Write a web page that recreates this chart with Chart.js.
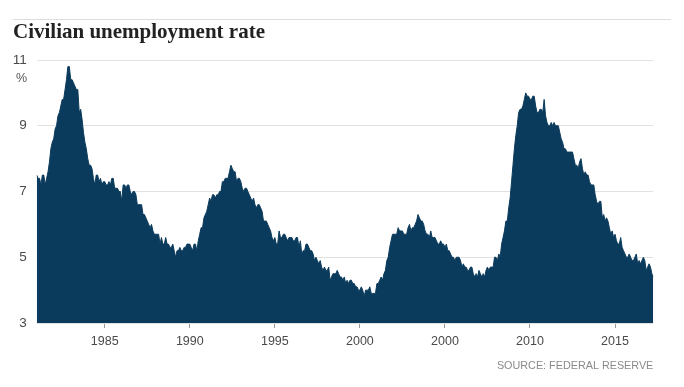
<!DOCTYPE html>
<html>
<head>
<meta charset="utf-8">
<script src="https://cdn.jsdelivr.net/npm/chart.js@4"></script>
<style>
  html, body { margin: 0; padding: 0; background: #fff; }
  canvas { display: block; }
</style>
</head>
<body>
<canvas id="chart" width="684" height="387"></canvas>
<script>
// Monthly civilian unemployment rate, %, Jan 1981 - Apr 2017
const startYear = 1981;

const rates1980s = [
  7.5, 7.4, 7.4, 7.2, 7.5, 7.5, 7.2, 7.4, 7.6, 7.9, 8.3, 8.5,
  8.6, 8.9, 9.0, 9.3, 9.4, 9.6, 9.8, 9.8, 10.1, 10.4, 10.8, 10.8,
  10.4, 10.4, 10.3, 10.2, 10.1, 10.1, 9.4, 9.5, 9.2, 8.8, 8.5, 8.3,
  8.0, 7.8, 7.8, 7.7, 7.4, 7.2, 7.5, 7.5, 7.3, 7.4, 7.2, 7.3,
  7.3, 7.2, 7.2, 7.3, 7.2, 7.4, 7.4, 7.1, 7.1, 7.1, 7.0, 7.0,
  6.7, 7.2, 7.2, 7.1, 7.2, 7.2, 7.0, 6.9, 7.0, 7.0, 6.9, 6.6,
  6.6, 6.6, 6.6, 6.3, 6.3, 6.2, 6.1, 6.0, 5.9, 6.0, 5.8, 5.7,
  5.7, 5.7, 5.7, 5.4, 5.6, 5.4, 5.4, 5.6, 5.4, 5.4, 5.3, 5.3,
  5.4, 5.2, 5.0, 5.2, 5.2, 5.3, 5.2, 5.2, 5.3, 5.3, 5.4, 5.4
];

const rates1990s = [
  5.4, 5.3, 5.2, 5.4, 5.4, 5.2, 5.5, 5.7, 5.9, 5.9, 6.2, 6.3,
  6.4, 6.6, 6.8, 6.7, 6.9, 6.9, 6.8, 6.9, 6.9, 7.0, 7.0, 7.3,
  7.3, 7.4, 7.4, 7.4, 7.6, 7.8, 7.7, 7.6, 7.6, 7.3, 7.4, 7.4,
  7.3, 7.1, 7.0, 7.1, 7.1, 7.0, 6.9, 6.8, 6.7, 6.8, 6.6, 6.5,
  6.6, 6.6, 6.5, 6.4, 6.1, 6.1, 6.1, 6.0, 5.9, 5.8, 5.6, 5.5,
  5.6, 5.4, 5.4, 5.8, 5.6, 5.6, 5.7, 5.7, 5.6, 5.5, 5.6, 5.6,
  5.6, 5.5, 5.5, 5.6, 5.6, 5.3, 5.5, 5.1, 5.2, 5.2, 5.4, 5.4,
  5.3, 5.2, 5.2, 5.1, 4.9, 5.0, 4.9, 4.8, 4.9, 4.7, 4.6, 4.7,
  4.6, 4.6, 4.7, 4.3, 4.4, 4.5, 4.5, 4.5, 4.6, 4.5, 4.4, 4.4,
  4.3, 4.4, 4.2, 4.3, 4.2, 4.3, 4.3, 4.2, 4.2, 4.1, 4.1, 4.0
];

const rates2000s = [
  4.0, 4.1, 4.0, 3.8, 4.0, 4.0, 4.0, 4.1, 3.9, 3.9, 3.9, 3.9,
  4.2, 4.2, 4.3, 4.4, 4.3, 4.5, 4.6, 4.9, 5.0, 5.3, 5.5, 5.7,
  5.7, 5.7, 5.7, 5.9, 5.8, 5.8, 5.8, 5.7, 5.7, 5.7, 5.9, 6.0,
  5.8, 5.9, 5.9, 6.0, 6.1, 6.3, 6.2, 6.1, 6.1, 6.0, 5.8, 5.7,
  5.7, 5.6, 5.8, 5.6, 5.6, 5.6, 5.5, 5.4, 5.4, 5.5, 5.4, 5.4,
  5.3, 5.4, 5.2, 5.2, 5.1, 5.0, 5.0, 4.9, 5.0, 5.0, 5.0, 4.9,
  4.7, 4.8, 4.7, 4.7, 4.6, 4.6, 4.7, 4.7, 4.5, 4.4, 4.5, 4.4,
  4.6, 4.5, 4.4, 4.5, 4.4, 4.6, 4.7, 4.6, 4.7, 4.7, 4.7, 5.0,
  5.0, 4.9, 5.1, 5.0, 5.4, 5.6, 5.8, 6.1, 6.1, 6.5, 6.8, 7.3,
  7.8, 8.3, 8.7, 9.0, 9.4, 9.5, 9.5, 9.6, 9.8, 10.0, 9.9, 9.9
];

const rates2010s = [
  9.8, 9.8, 9.9, 9.9, 9.6, 9.4, 9.4, 9.5, 9.5, 9.4, 9.8, 9.3,
  9.1, 9.0, 9.0, 9.1, 9.0, 9.1, 9.0, 9.0, 9.0, 8.8, 8.6, 8.5,
  8.3, 8.3, 8.2, 8.2, 8.2, 8.2, 8.2, 8.0, 7.8, 7.8, 7.7, 7.9,
  8.0, 7.7, 7.5, 7.6, 7.5, 7.5, 7.3, 7.2, 7.2, 7.2, 6.9, 6.7,
  6.6, 6.7, 6.7, 6.2, 6.3, 6.1, 6.2, 6.1, 5.9, 5.7, 5.8, 5.6,
  5.7, 5.5, 5.4, 5.4, 5.6, 5.3, 5.2, 5.1, 5.0, 5.0, 5.1, 5.0,
  4.9, 4.9, 5.0, 5.1, 4.8, 4.9, 4.8, 4.9, 5.0, 4.9, 4.6, 4.7,
  4.8, 4.7, 4.5, 4.4
];

const tickYears = [1985, 1990, 1995, 2000, 2005, 2010, 2015];
const tickLabels = ['1985', '1990', '1995', '2000', '2000', '2010', '2015'];
const yTicks = [3, 5, 7, 9, 11];

const titleText = 'Civilian unemployment rate';
const unitText = '%';
const sourceText = 'SOURCE: FEDERAL RESERVE';

const NAVY = '#0b3b5c';
const SANS = '"Liberation Sans", Arial, sans-serif';

const rates = [...rates1980s, ...rates1990s, ...rates2000s, ...rates2010s];
const points = rates.map((v, i) => ({ x: startYear + i / 12, y: v }));

const decorations = {
    id: 'decorations',
    afterDraw(chart) {
        const { ctx, chartArea } = chart;
        ctx.save();

        // thin rule above the headline
        ctx.strokeStyle = '#dddddd';
        ctx.lineWidth = 1;
        ctx.beginPath();
        ctx.moveTo(13, 19.5);
        ctx.lineTo(671, 19.5);
        ctx.stroke();

        ctx.fillStyle = '#222222';
        ctx.font = 'bold 21px "Liberation Serif", "DejaVu Serif", serif';
        ctx.textAlign = 'left';
        ctx.textBaseline = 'alphabetic';
        ctx.fillText(titleText, 13, 37.5);

        ctx.fillStyle = '#555555';
        ctx.font = '12.5px ' + SANS;
        ctx.textAlign = 'right';
        ctx.fillText(unitText, 27, 82);

        ctx.fillStyle = '#8a8a8a';
        ctx.font = '10.8px ' + SANS;
        ctx.fillText(sourceText, chartArea.right, 369);

        ctx.restore();
    }
};

new Chart(document.getElementById('chart'), {
    type: 'line',
    data: {
        datasets: [{
            data: points,
            fill: 'start',
            backgroundColor: NAVY,
            borderColor: NAVY,
            borderWidth: 1,
            pointRadius: 0,
            tension: 0
        }]
    },
    options: {
        responsive: false,
        animation: false,
        layout: { padding: { top: 60, right: 30.7, bottom: 0, left: 0 } },
        plugins: {
            legend: { display: false },
            tooltip: { enabled: false }
        },
        scales: {
            x: {
                type: 'linear',
                min: startYear,
                max: startYear + (rates.length - 1) / 12,
                afterBuildTicks: (scale) => {
                    scale.ticks = tickYears.map(v => ({ value: v }));
                },
                afterFit: (scale) => { scale.height = 64; },
                grid: {
                    drawOnChartArea: false,
                    drawTicks: true,
                    tickLength: 5,
                    color: '#999999'
                },
                border: { display: false },
                ticks: {
                    padding: 6,
                    maxRotation: 0,
                    color: '#4a4a4a',
                    font: { family: SANS, size: 12.5 },
                    callback: (value) => tickLabels[tickYears.indexOf(value)]
                }
            },
            y: {
                min: 3,
                max: 11,
                afterBuildTicks: (scale) => {
                    scale.ticks = yTicks.map(v => ({ value: v }));
                },
                afterFit: (scale) => { scale.width = 36.7; },
                grid: {
                    drawTicks: false,
                    color: '#e2e2e2'
                },
                border: { display: false },
                ticks: {
                    padding: 10,
                    color: '#4a4a4a',
                    font: { family: SANS, size: 13.5 }
                }
            }
        }
    },
    plugins: [decorations]
});
</script>
</body>
</html>
